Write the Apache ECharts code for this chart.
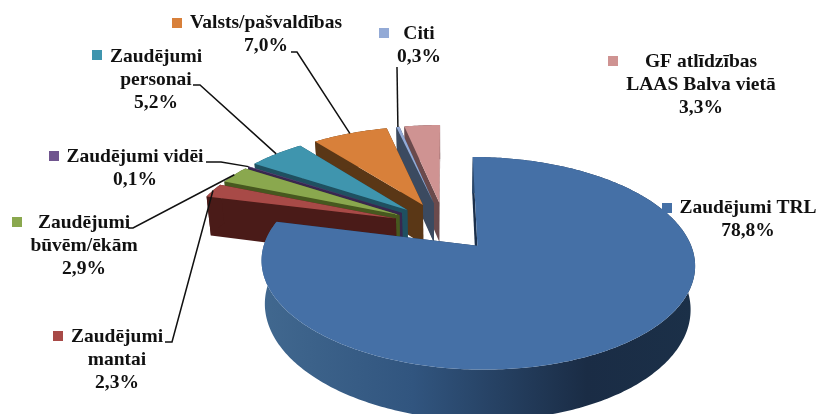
<!DOCTYPE html>
<html>
<head>
<meta charset="utf-8">
<style>
  html, body { margin: 0; padding: 0; background: #fff; }
  #myecharts { width: 816px; height: 414px; }
</style>
<script src="https://cdn.jsdelivr.net/npm/echarts@6/dist/echarts.min.js"></script>
</head>
<body>
<div id="myecharts"></div>
<script>
// clockwise from 12 o'clock
var categories = ["Zaudējumi TRL", "Zaudējumi\nmantai", "Zaudējumi\nbūvēm/ēkām", "Zaudējumi vidēi", "Zaudējumi\npersonai", "Valsts/pašvaldības", "Citi", "GF atlīdzības\nLAAS Balva vietā"];
var shares = [78.8, 2.3, 2.9, 0.1, 5.2, 7.0, 0.3, 3.3];
var topColors = ["#4570a6", "#a84a47", "#8aa84e", "#70558f", "#3f95ae", "#d8803a", "#93aad6", "#cf9392"];
var wallColors = ["#1b2f4a", "#4a1b18", "#47581f", "#38274f", "#1f5060", "#5a3716", "#3b4a60", "#6b4a4c"];

// label placement: text centre x, first line centre y, legend key corner, leader elbow points
var labelLayout = [
  { x: 748, y: 208, key: [662, 203], leader: null },
  { x: 117, y: 337, key: [53, 331], leader: [[165, 342], [172, 342]] },
  { x: 84, y: 223, key: [12, 217], leader: [[128, 228], [133, 228]] },
  { x: 135, y: 157, key: [49, 151], leader: [[206, 162], [221, 162]] },
  { x: 156, y: 57, key: [92, 50], leader: [[193, 85], [200, 85]] },
  { x: 266, y: 23, key: [172, 18], leader: [[291, 52], [297, 52]] },
  { x: 419, y: 34, key: [379, 28], leader: [[397, 67]] },
  { x: 701, y: 62, key: [608, 56], leader: null }
];

// perspective of the tilted pie
var cx = 444.5, cy = 226, scaleX = 207, scaleY = 97, persp = 0.16;
var explode = 0.25, depth = 41, floorShrink = 0.982;
var total = shares.reduce(function (a, b) { return a + b; }, 0);

function project(wx, wy, low) {
  var s = 1 / (1 + persp * wy);
  var x = scaleX * wx * s;
  var y = cy - scaleY * wy * s;
  if (low) {
    x = x * floorShrink;
    y = y + depth * s;
  }
  return [cx + x, y];
}

function sliceAngles(i) {
  var before = 0;
  for (var j = 0; j < i; j++) before += shares[j];
  return [before / total * Math.PI * 2, (before + shares[i]) / total * Math.PI * 2];
}

function apexWorld(i) {
  var a = sliceAngles(i);
  var mid = (a[0] + a[1]) / 2;
  return [Math.sin(mid) * explode, Math.cos(mid) * explode];
}

function rimPoint(i, ang, low) {
  var c = apexWorld(i);
  return project(c[0] + Math.sin(ang), c[1] + Math.cos(ang), low);
}

function rimArc(i, low) {
  var a = sliceAngles(i);
  var n = Math.max(2, Math.ceil((a[1] - a[0]) / 0.015));
  var pts = [];
  for (var k = 0; k <= n; k++) {
    pts.push(rimPoint(i, a[0] + (a[1] - a[0]) * k / n, low));
  }
  return pts;
}

function renderSlice(params, api) {
  var i = api.value(0);
  var a = sliceAngles(i);
  var c = apexWorld(i);
  var apexTop = project(c[0], c[1], false);
  var apexLow = project(c[0], c[1], true);
  var top = rimArc(i, false);
  var low = rimArc(i, true);
  var wallFill = wallColors[i];
  var rimFill = wallFill;
  if (i === 0) {
    rimFill = {
      type: "linear", x: 0, y: 0, x2: 1, y2: 0,
      colorStops: [
        { offset: 0, color: "#41688f" },
        { offset: 0.35, color: "#31557f" },
        { offset: 0.75, color: "#1a2c45" },
        { offset: 1, color: "#1b3048" }
      ]
    };
  }
  var wall = function (ang) {
    return {
      type: "polygon",
      shape: { points: [apexTop, rimPoint(i, ang, false), rimPoint(i, ang, true), apexLow] },
      style: { fill: wallFill }
    };
  };
  return {
    type: "group",
    children: [
      wall(a[1]),
      wall(a[0]),
      {
        type: "polygon",
        shape: { points: top.concat(low.slice().reverse()) },
        style: { fill: rimFill }
      },
      {
        type: "polygon",
        shape: { points: [apexTop].concat(top) },
        style: { fill: topColors[i] }
      }
    ]
  };
}

function renderLabel(params, api) {
  var i = api.value(0);
  var lay = labelLayout[i];
  var lines = categories[i].split("\n");
  lines.push(shares[i].toFixed(1).replace(".", ",") + "%");
  var children = [{
    type: "rect",
    shape: { x: lay.key[0], y: lay.key[1], width: 10, height: 10 },
    style: { fill: topColors[i] }
  }];
  if (lay.leader) {
    var a = sliceAngles(i);
    children.push({
      type: "polyline",
      shape: { points: lay.leader.concat([rimPoint(i, (a[0] + a[1]) / 2, false)]) },
      style: { stroke: "#111", lineWidth: 1.5, fill: null }
    });
  }
  lines.forEach(function (t, n) {
    children.push({
      type: "text",
      style: {
        text: t,
        x: lay.x,
        y: lay.y + n * 23,
        fill: "#111",
        font: 'bold 19.5px "Liberation Serif"',
        textAlign: "center",
        textVerticalAlign: "middle"
      }
    });
  });
  return { type: "group", children: children };
}

// back slices first, the big slice last
var drawOrder = shares.map(function (v, i) { return [i, v]; }).reverse();

var myecharts = echarts.init(document.getElementById("myecharts"), null, { renderer: "canvas" });
myecharts.setOption({
  animation: false,
  backgroundColor: "#fff",
  series: [
    { type: "custom", coordinateSystem: "none", silent: true, z: 2, renderItem: renderSlice, data: drawOrder },
    { type: "custom", coordinateSystem: "none", silent: true, z: 3, renderItem: renderLabel, data: shares.map(function (v, i) { return [i, v]; }) }
  ]
});
</script>
</body>
</html>
